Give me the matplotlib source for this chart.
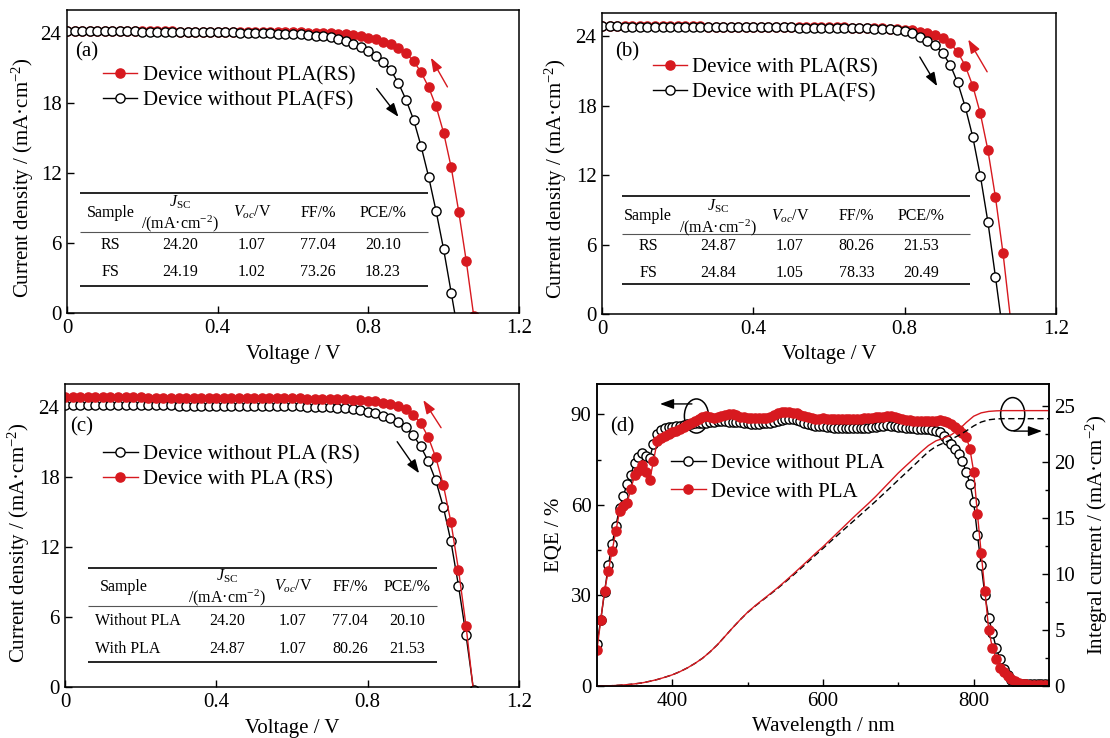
import matplotlib
matplotlib.use("Agg")
import matplotlib.pyplot as plt
from matplotlib.patches import Ellipse

plt.rcParams["font.family"] = ["Liberation Serif", "DejaVu Serif"]
plt.rcParams["mathtext.fontset"] = "custom"
plt.rcParams["mathtext.rm"] = "Liberation Serif"
plt.rcParams["mathtext.it"] = "Liberation Serif:italic"
plt.rcParams["mathtext.bf"] = "Liberation Serif:bold"

RED = "#d7191f"
FS_AX = 15
FS_TB = 11.5

# ---------------- J-V data (voltage sweep, 0.02 V step) ----------------
voltage_rs = [0.00, 0.02, 0.04, 0.06, 0.08, 0.10, 0.12, 0.14, 0.16, 0.18,
              0.20, 0.22, 0.24, 0.26, 0.28, 0.30, 0.32, 0.34, 0.36, 0.38,
              0.40, 0.42, 0.44, 0.46, 0.48, 0.50, 0.52, 0.54, 0.56, 0.58,
              0.60, 0.62, 0.64, 0.66, 0.68, 0.70, 0.72, 0.74, 0.76, 0.78,
              0.80, 0.82, 0.84, 0.86, 0.88, 0.90, 0.92, 0.94, 0.96, 0.98,
              1.00, 1.02, 1.04, 1.06, 1.08]

voltage_fs_wo = voltage_rs[:53]   # 0 ... 1.04 V
voltage_fs_w = voltage_rs[:54]    # 0 ... 1.06 V

# Device without PLA, reverse scan
j_wo_rs = [24.20, 24.20, 24.20, 24.19, 24.19, 24.19, 24.18, 24.18, 24.18, 24.17,
           24.17, 24.17, 24.16, 24.16, 24.16, 24.15, 24.15, 24.14, 24.14, 24.14,
           24.13, 24.13, 24.12, 24.12, 24.11, 24.11, 24.10, 24.10, 24.09, 24.09,
           24.08, 24.07, 24.06, 24.05, 24.04, 24.02, 23.97, 23.91, 23.83, 23.74,
           23.62, 23.47, 23.28, 23.04, 22.73, 22.27, 21.62, 20.66, 19.38, 17.72,
           15.45, 12.50, 8.70, 4.45, -0.30]

# Device without PLA, forward scan
j_wo_fs = [24.19, 24.19, 24.18, 24.18, 24.18, 24.17, 24.17, 24.17, 24.16, 24.16,
           24.15, 24.15, 24.14, 24.14, 24.13, 24.13, 24.12, 24.11, 24.11, 24.10,
           24.09, 24.08, 24.07, 24.06, 24.05, 24.04, 24.02, 24.00, 23.98, 23.96,
           23.93, 23.90, 23.86, 23.81, 23.74, 23.65, 23.52, 23.35, 23.12, 22.84,
           22.45, 22.03, 21.55, 20.82, 19.72, 18.30, 16.60, 14.32, 11.70, 8.72,
           5.45, 1.75, -2.00]

# Device with PLA, reverse scan
j_w_rs = [24.87, 24.87, 24.87, 24.86, 24.86, 24.86, 24.86, 24.85, 24.85, 24.85,
          24.85, 24.84, 24.84, 24.84, 24.83, 24.83, 24.83, 24.82, 24.82, 24.82,
          24.81, 24.81, 24.80, 24.80, 24.79, 24.79, 24.78, 24.78, 24.77, 24.77,
          24.76, 24.76, 24.75, 24.74, 24.73, 24.72, 24.70, 24.68, 24.65, 24.61,
          24.56, 24.50, 24.40, 24.28, 24.12, 23.86, 23.38, 22.65, 21.45, 19.70,
          17.33, 14.16, 10.08, 5.25, -0.50]

# Device with PLA, forward scan
j_w_fs = [24.84, 24.84, 24.84, 24.83, 24.83, 24.83, 24.83, 24.82, 24.82, 24.82,
          24.81, 24.81, 24.81, 24.80, 24.80, 24.80, 24.79, 24.79, 24.78, 24.78,
          24.77, 24.77, 24.76, 24.76, 24.75, 24.75, 24.74, 24.74, 24.73, 24.72,
          24.72, 24.71, 24.70, 24.69, 24.68, 24.67, 24.65, 24.62, 24.58, 24.53,
          24.46, 24.26, 23.95, 23.62, 23.22, 22.55, 21.55, 20.00, 17.90, 15.30,
          11.95, 7.95, 3.20, -1.70]

v_ticks = [0, 0.4, 0.8, 1.2]
v_tick_labels = ["0", "0.4", "0.8", "1.2"]
j_ticks = [0, 6, 12, 18, 24]

# Photovoltaic parameters
table_a_rows = [["RS", "24.20", "1.07", "77.04", "20.10"],
                ["FS", "24.19", "1.02", "73.26", "18.23"]]
table_b_rows = [["RS", "24.87", "1.07", "80.26", "21.53"],
                ["FS", "24.84", "1.05", "78.33", "20.49"]]
table_c_rows = [["Without PLA", "24.20", "1.07", "77.04", "20.10"],
                ["With PLA", "24.87", "1.07", "80.26", "21.53"]]

# ---------------- EQE data (5 nm step) ----------------
wavelength = [300, 305, 310, 315, 320, 325, 330, 335, 340, 345,
              350, 355, 360, 365, 370, 375, 380, 385, 390, 395,
              400, 405, 410, 415, 420, 425, 430, 435, 440, 445,
              450, 455, 460, 465, 470, 475, 480, 485, 490, 495,
              500, 505, 510, 515, 520, 525, 530, 535, 540, 545,
              550, 555, 560, 565, 570, 575, 580, 585, 590, 595,
              600, 605, 610, 615, 620, 625, 630, 635, 640, 645,
              650, 655, 660, 665, 670, 675, 680, 685, 690, 695,
              700, 705, 710, 715, 720, 725, 730, 735, 740, 745,
              750, 755, 760, 765, 770, 775, 780, 785, 790, 795,
              800, 805, 810, 815, 820, 825, 830, 835, 840, 845,
              850, 855, 860, 865, 870, 875, 880, 885, 890, 895,
              900]

eqe_wo = [14.0, 22.0, 31.0, 40.0, 47.0, 53.0, 59.0, 63.0, 67.0, 70.0,
          74.0, 75.8, 77.3, 76.2, 75.6, 80.1, 83.5, 84.8, 85.3, 85.6,
          85.8, 86.0, 86.2, 86.5, 86.7, 86.9, 87.0, 87.0, 87.0, 87.2,
          87.4, 87.5, 87.6, 87.6, 87.6, 87.5, 87.5, 87.4, 87.3, 87.2,
          87.0, 86.9, 86.9, 86.9, 87.0, 87.0, 87.2, 87.5, 87.8, 88.1,
          88.3, 88.4, 88.3, 88.0, 87.6, 87.1, 86.7, 86.4, 86.2, 86.1,
          86.0, 85.8, 85.6, 85.4, 85.3, 85.3, 85.3, 85.3, 85.3, 85.3,
          85.3, 85.4, 85.5, 85.7, 85.9, 86.1, 86.2, 86.3, 86.2, 86.0,
          85.8, 85.6, 85.4, 85.3, 85.3, 85.2, 85.1, 85.0, 85.0, 84.9,
          84.6, 84.0, 82.8, 81.3, 80.1, 78.6, 76.8, 74.5, 71.0, 67.0,
          61.0, 50.0, 40.0, 30.0, 22.5, 17.5, 12.5, 9.0, 5.5, 3.5,
          2.0, 1.2, 0.8, 0.6, 0.5, 0.5, 0.5, 0.5, 0.5, 0.5,
          0.5]

eqe_w = [12.0, 21.9, 31.6, 38.0, 44.6, 51.3, 57.9, 59.6, 60.7, 65.3,
         69.8, 71.2, 73.1, 70.7, 68.2, 74.5, 81.2, 82.0, 82.8, 83.5,
         84.0, 84.6, 85.2, 85.8, 86.4, 87.0, 87.6, 88.4, 89.0, 89.3,
         89.0, 88.8, 89.0, 89.5, 89.8, 90.0, 90.0, 89.6, 89.2, 89.0,
         88.9, 88.8, 88.9, 88.9, 88.8, 88.9, 89.2, 89.8, 90.3, 90.6,
         90.8, 90.7, 90.5, 90.3, 89.9, 89.4, 89.0, 88.7, 88.5, 88.5,
         88.6, 88.5, 88.4, 88.3, 88.3, 88.4, 88.5, 88.5, 88.4, 88.4,
         88.5, 88.6, 88.8, 88.9, 89.0, 89.1, 89.2, 89.3, 89.3, 89.0,
         88.7, 88.4, 88.2, 88.0, 87.8, 87.7, 87.6, 87.6, 87.7, 87.8,
         87.9, 88.0, 87.8, 87.3, 86.6, 85.8, 84.8, 83.8, 82.6, 78.5,
         71.0, 57.0, 44.0, 31.3, 18.5, 12.5, 9.0, 6.0, 4.5, 3.2,
         2.2, 1.5, 1.0, 0.7, 0.5, 0.4, 0.4, 0.3, 0.3, 0.3,
         0.3]

# Integrated current (10 nm step)
wavelength_int = [300, 310, 320, 330, 340, 350, 360, 370, 380, 390,
                  400, 410, 420, 430, 440, 450, 460, 470, 480, 490,
                  500, 510, 520, 530, 540, 550, 560, 570, 580, 590,
                  600, 610, 620, 630, 640, 650, 660, 670, 680, 690,
                  700, 710, 720, 730, 740, 750, 760, 770, 780, 790,
                  800, 810, 820, 830, 840, 850, 860, 870, 880, 890,
                  900]

jint_w = [0.00, 0.01, 0.03, 0.07, 0.12, 0.19, 0.28, 0.42, 0.58, 0.78,
          1.00, 1.28, 1.62, 2.02, 2.48, 3.05, 3.70, 4.45, 5.20, 5.92,
          6.60, 7.18, 7.72, 8.25, 8.80, 9.38, 9.98, 10.60, 11.22, 11.85,
          12.45, 13.10, 13.75, 14.40, 15.05, 15.68, 16.30, 16.95, 17.65, 18.35,
          19.05, 19.68, 20.30, 20.92, 21.50, 21.92, 22.15, 22.45, 22.90, 23.55,
          24.12, 24.42, 24.55, 24.60, 24.62, 24.62, 24.62, 24.62, 24.62, 24.62,
          24.62]

jint_wo = [0.00, 0.01, 0.03, 0.07, 0.12, 0.19, 0.28, 0.42, 0.58, 0.78,
           1.00, 1.28, 1.62, 2.02, 2.48, 3.05, 3.70, 4.45, 5.20, 5.92,
           6.58, 7.15, 7.68, 8.20, 8.74, 9.30, 9.88, 10.48, 11.08, 11.70,
           12.30, 12.92, 13.52, 14.12, 14.72, 15.32, 15.92, 16.52, 17.15, 17.78,
           18.42, 19.05, 19.68, 20.32, 20.95, 21.42, 21.72, 22.05, 22.40, 22.80,
           23.25, 23.60, 23.80, 23.88, 23.90, 23.90, 23.90, 23.90, 23.90, 23.90,
           23.90]

# ---------------- figure layout ----------------
W, H = 1110, 738
fig = plt.figure(figsize=(W / 100, H / 100), dpi=100)


def add_ax(left, top, right, bottom):
    return fig.add_axes([left / W, 1 - bottom / H, (right - left) / W, (bottom - top) / H])


ax_a = add_ax(67, 10, 519, 313)
ax_b = add_ax(602, 13, 1056, 314)
ax_c = add_ax(65, 384, 519, 687)
ax_d = add_ax(597, 384, 1049, 686)

MS = 6.6
STYLE_FILLED = dict(color=RED, marker="o", ms=MS, mfc=RED, mec=RED, mew=1.0, lw=1.0)
STYLE_OPEN = dict(color="k", marker="o", ms=MS, mfc="white", mec="k", mew=1.0, lw=1.0)


def style_axes(ax):
    ax.tick_params(which="both", direction="in", labelsize=FS_AX, pad=4, width=1.0)
    ax.tick_params(which="major", length=5)
    ax.tick_params(which="minor", length=3)
    for s in ax.spines.values():
        s.set_linewidth(1.1)


def style_jv(ax, label_y, labelpad=5):
    ax.set_xlim(0, 1.2)
    ax.set_ylim(0, 26)
    ax.set_xticks(v_ticks)
    ax.set_xticklabels(v_tick_labels)
    ax.set_yticks(j_ticks)
    style_axes(ax)
    ax.set_xlabel("Voltage / V", fontsize=FS_AX, labelpad=5)
    ax.set_ylabel("Current density / (mA·cm$^{-2}$)", fontsize=FS_AX, labelpad=labelpad)
    ax.yaxis.label.set_y(label_y)


def legend(ax, x, y, spacing=0.26):
    ax.legend(loc="upper left", bbox_to_anchor=(x, y), frameon=False, fontsize=FS_AX,
              handlelength=1.65, handletextpad=0.25, labelspacing=spacing,
              borderpad=0, borderaxespad=0, numpoints=1)


def hline(ax, y, x0, x1, lw, color="k"):
    ax.plot([x0, x1], [y, y], transform=ax.transAxes, color=color, lw=lw,
            clip_on=False, solid_capstyle="butt")


def table(ax, x0, x1, ys, cols, y_head, y_j, y_unit, rows_y, rows, label_x=None):
    y_top, y_mid, y_bot = ys
    hline(ax, y_top, x0, x1, 1.2)
    hline(ax, y_mid, x0, x1, 0.8, "#555555")
    hline(ax, y_bot, x0, x1, 1.2)
    kw = dict(transform=ax.transAxes, fontsize=FS_TB, ha="center", va="center")
    ax.text(cols[0], y_head, "Sample", **kw)
    ax.text(cols[1], y_j, r"$J_{\mathrm{SC}}$", transform=ax.transAxes, fontsize=FS_TB,
            ha="center", va="baseline")
    ax.text(cols[1], y_unit, "/(mA·cm$^{-2}$)", transform=ax.transAxes, fontsize=FS_TB,
            ha="center", va="top")
    ax.text(cols[2], y_head, r"$V_{oc}$/V", **kw)
    ax.text(cols[3], y_head, "FF/%", **kw)
    ax.text(cols[4], y_head, "PCE/%", **kw)
    for yy, row in zip(rows_y, rows):
        if label_x is None:
            ax.text(cols[0], yy, row[0], **kw)
        else:
            ax.text(label_x, yy, row[0], transform=ax.transAxes, fontsize=FS_TB,
                    ha="left", va="center")
        for cx, val in zip(cols[1:], row[1:]):
            ax.text(cx, yy, val, **kw)


def arrow(ax, tail, head, color):
    ax.annotate("", xy=head, xytext=tail,
                arrowprops=dict(arrowstyle="-|>,head_length=0.55,head_width=0.2",
                                color=color, lw=1.0, mutation_scale=15,
                                shrinkA=0, shrinkB=0))


def panel_label(ax, x, y, s):
    ax.text(x, y, s, transform=ax.transAxes, fontsize=FS_AX, ha="left", va="center")


# ---------------- (a) ----------------
ax_a.plot(voltage_rs, j_wo_rs, label="Device without PLA(RS)", **STYLE_FILLED)
ax_a.plot(voltage_fs_wo, j_wo_fs, label="Device without PLA(FS)", **STYLE_OPEN)
style_jv(ax_a, 0.446, labelpad=3)
legend(ax_a, 0.0796, 0.817)
panel_label(ax_a, 0.0177, 0.862, "(a)")
arrow(ax_a, (1.010, 19.4), (0.966, 21.9), RED)
arrow(ax_a, (0.822, 19.26), (0.880, 16.83), "k")
table(ax_a, 0.029, 0.799, (0.396, 0.268, 0.089),
      [0.097, 0.25, 0.409, 0.556, 0.699], 0.331, 0.352, 0.328, [0.224, 0.136], table_a_rows)

# ---------------- (b) ----------------
ax_b.plot(voltage_rs, j_w_rs, label="Device with PLA(RS)", **STYLE_FILLED)
ax_b.plot(voltage_fs_w, j_w_fs, label="Device with PLA(FS)", **STYLE_OPEN)
style_jv(ax_b, 0.45)
legend(ax_b, 0.112, 0.852)
panel_label(ax_b, 0.0286, 0.871, "(b)")
arrow(ax_b, (1.018, 20.92), (0.968, 23.71), RED)
arrow(ax_b, (0.840, 22.2), (0.886, 19.68), "k")
table(ax_b, 0.045, 0.811, (0.392, 0.265, 0.099),
      [0.102, 0.256, 0.414, 0.561, 0.703], 0.326, 0.345, 0.322, [0.226, 0.137], table_b_rows)

# ---------------- (c) ----------------
ax_c.plot(voltage_rs, j_wo_rs, label="Device without PLA (RS)", **STYLE_OPEN)
ax_c.plot(voltage_rs, j_w_rs, label="Device with PLA (RS)", **STYLE_FILLED)
style_jv(ax_c, 0.475)
legend(ax_c, 0.084, 0.80)
panel_label(ax_c, 0.011, 0.859, "(c)")
arrow(ax_c, (0.994, 22.25), (0.947, 24.62), RED)
arrow(ax_c, (0.878, 21.05), (0.936, 18.34), "k")
table(ax_c, 0.051, 0.819, (0.394, 0.267, 0.0835),
      [0.130, 0.357, 0.502, 0.628, 0.753], 0.331, 0.350, 0.328, [0.219, 0.124], table_c_rows,
      label_x=0.066)

# ---------------- (d) ----------------
ax_d.plot(wavelength, eqe_wo, label="Device without PLA", **STYLE_OPEN)
ax_d.plot(wavelength, eqe_w, label="Device with PLA", **STYLE_FILLED)
ax_d.set_xlim(300, 900)
ax_d.set_ylim(0, 100)
ax_d.set_xticks([400, 600, 800])
ax_d.set_xticks([500, 700], minor=True)
ax_d.set_yticks([0, 30, 60, 90])
ax_d.set_yticks([15, 45, 75], minor=True)
style_axes(ax_d)
ax_d.set_xlabel("Wavelength / nm", fontsize=FS_AX, labelpad=5)
ax_d.set_ylabel("EQE / %", fontsize=FS_AX, labelpad=5)
legend(ax_d, 0.164, 0.769, spacing=0.42)
panel_label(ax_d, 0.0288, 0.859, "(d)")

ax_r = ax_d.twinx()
ax_r.plot(wavelength_int, jint_wo, color="k", lw=1.0, ls=(0, (4.5, 2.5)))
ax_r.plot(wavelength_int, jint_w, color=RED, lw=1.0)
ax_r.set_ylim(0, 27)
ax_r.set_yticks([0, 5, 10, 15, 20, 25])
ax_r.set_yticks([2.5, 7.5, 12.5, 17.5, 22.5], minor=True)
style_axes(ax_r)
ax_r.set_ylabel("Integral current / (mA·cm$^{-2}$)", fontsize=FS_AX, labelpad=6)

ax_d.add_patch(Ellipse((432, 89.4), width=32, height=11.3, fill=False, ec="k", lw=1.1))
ax_d.add_patch(Ellipse((851.8, 90.0), width=32, height=11.0, fill=False, ec="k", lw=1.1))
arrow(ax_d, (426, 93.4), (383.6, 93.4), "k")
arrow(ax_d, (853.5, 84.4), (890.7, 84.4), "k")

fig.savefig("out.png", dpi=100)
